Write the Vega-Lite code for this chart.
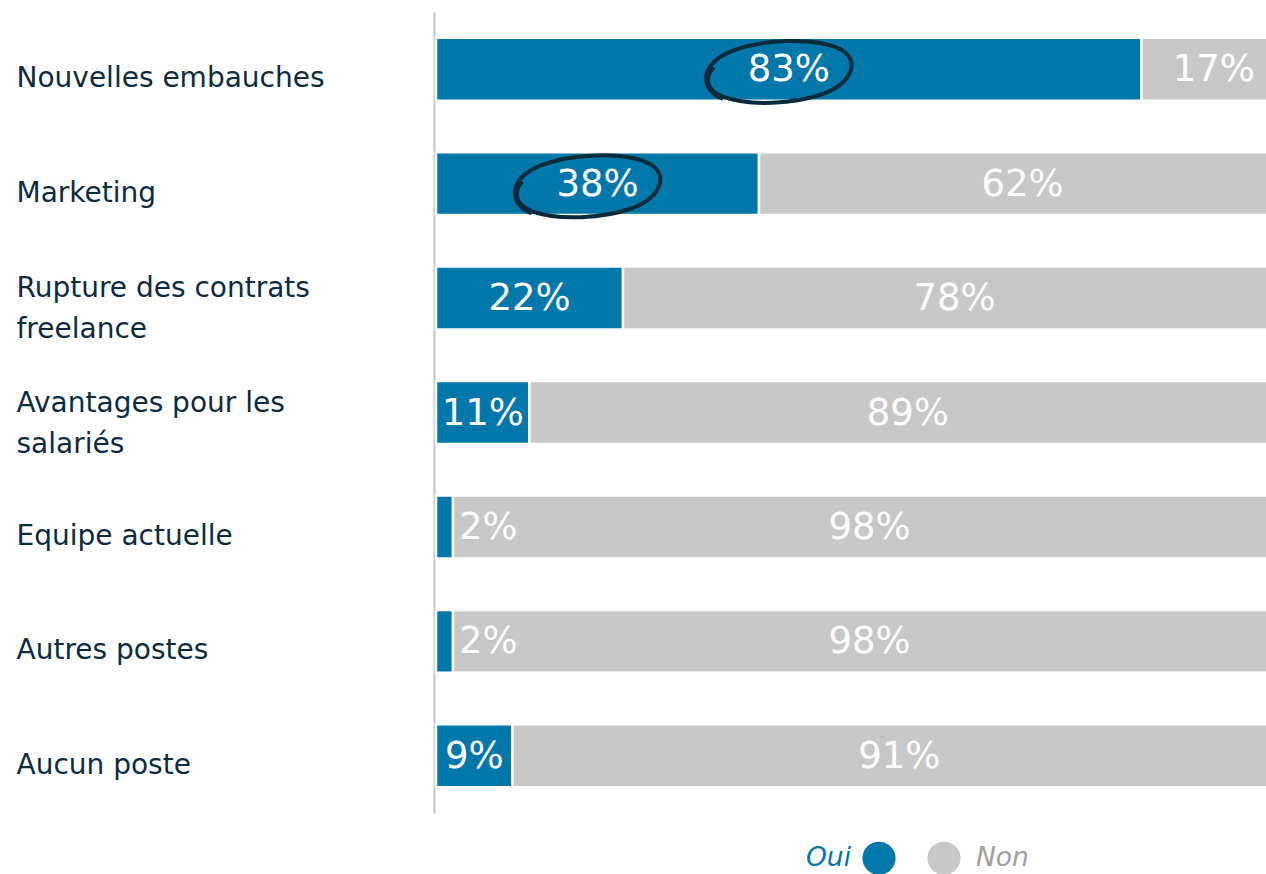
{
  "$schema": "https://vega.github.io/schema/vega-lite/v6.json",
  "width": 850,
  "height": 801,
  "autosize": {"type": "none"},
  "padding": {"left": 436, "top": 12, "right": 0, "bottom": 61},
  "background": "white",
  "config": {"view": {"stroke": null}, "font": "DejaVu Sans"},
  "data": {
    "values": [
      {"cat": "Nouvelles embauches", "rep": "Oui", "v": 83, "hl": true},
      {"cat": "Nouvelles embauches", "rep": "Non", "v": 17, "hl": false},
      {"cat": "Marketing", "rep": "Oui", "v": 38, "hl": true},
      {"cat": "Marketing", "rep": "Non", "v": 62, "hl": false},
      {"cat": "Rupture des contrats|freelance", "rep": "Oui", "v": 22, "hl": false},
      {"cat": "Rupture des contrats|freelance", "rep": "Non", "v": 78, "hl": false},
      {"cat": "Avantages pour les|salariés", "rep": "Oui", "v": 11, "hl": false},
      {"cat": "Avantages pour les|salariés", "rep": "Non", "v": 89, "hl": false},
      {"cat": "Equipe actuelle", "rep": "Oui", "v": 2, "hl": false},
      {"cat": "Equipe actuelle", "rep": "Non", "v": 98, "hl": false},
      {"cat": "Autres postes", "rep": "Oui", "v": 2, "hl": false},
      {"cat": "Autres postes", "rep": "Non", "v": 98, "hl": false},
      {"cat": "Aucun poste", "rep": "Oui", "v": 9, "hl": false},
      {"cat": "Aucun poste", "rep": "Non", "v": 91, "hl": false}
    ]
  },
  "transform": [
    {"stack": "v", "groupby": ["cat"], "sort": [{"field": "rep", "order": "descending"}], "as": ["x0", "x1"]},
    {"calculate": "(datum.x0 + datum.x1) / 2", "as": "mid"},
    {"calculate": "datum.v + '%'", "as": "lab"}
  ],
  "encoding": {
    "y": {
      "field": "cat",
      "type": "nominal",
      "sort": ["Nouvelles embauches", "Marketing", "Rupture des contrats|freelance", "Avantages pour les|salariés", "Equipe actuelle", "Autres postes", "Aucun poste"],
      "scale": {"paddingInner": 0.45, "paddingOuter": 0.225},
      "axis": {
        "title": null,
        "offset": 2,
        "domainColor": "#c4c4c4",
        "domainWidth": 2,
        "ticks": false,
        "tickSize": 0,
        "labelAlign": "left",
        "labelBaseline": "middle",
        "labelPadding": 418,
        "labelLimit": 420,
        "labelFontSize": 28,
        "labelFontWeight": "normal",
        "labelColor": "#0d2b3e",
        "labelOffset": {"condition": {"test": "indexof(datum.label, '|') >= 0", "value": -9}, "value": 10},
        "labelLineHeight": 41,
        "labelExpr": "split(datum.label, '|')"
      }
    }
  },
  "layer": [
    {
      "mark": {"type": "bar", "stroke": "white", "strokeWidth": 2.5},
      "encoding": {
        "x": {"field": "x0", "type": "quantitative", "scale": {"domain": [0, 100], "nice": false}, "axis": null},
        "x2": {"field": "x1"},
        "color": {
          "field": "rep",
          "type": "nominal",
          "scale": {"domain": ["Oui", "Non"], "range": ["#0277a9", "#c8c8c8"]},
          "legend": {
            "orient": "none",
            "direction": "horizontal",
            "legendX": 370,
            "legendY": 829,
            "title": "Oui",
            "titleOrient": "left",
            "titleFont": "DejaVu Sans",
            "titleFontSize": 26.5,
            "titleFontStyle": "italic",
            "titleFontWeight": "normal",
            "titleColor": "#0277a9",
            "titlePadding": 10,
            "titleBaseline": "middle",
            "symbolType": "circle",
            "symbolSize": 1100,
            "symbolOpacity": 1,
            "symbolStrokeWidth": 0,
            "labelExpr": "datum.label == 'Oui' ? '' : datum.label",
            "labelFontSize": 26.5,
            "labelFontStyle": "italic",
            "labelFontWeight": "normal",
            "labelColor": "#a0a0a0",
            "labelOffset": 15,
            "columnPadding": 16
          }
        }
      }
    },
    {
      "transform": [{"filter": "datum.v >= 5"}],
      "mark": {"type": "text", "color": "white", "fontSize": 37, "fontWeight": "normal", "align": "center", "baseline": "middle", "dy": 1},
      "encoding": {
        "x": {"field": "mid", "type": "quantitative"},
        "text": {"field": "lab"}
      }
    },
    {
      "transform": [{"filter": "datum.v < 5"}],
      "mark": {"type": "text", "color": "white", "fontSize": 37, "fontWeight": "normal", "align": "left", "baseline": "middle", "dx": 6, "dy": 1},
      "encoding": {
        "x": {"field": "x1", "type": "quantitative"},
        "text": {"field": "lab"}
      }
    },
    {
      "transform": [{"filter": "datum.hl"}],
      "mark": {
        "type": "point",
        "shape": "M -0.75 0.33 C -1.05 0.2 -1.05 -0.15 -0.6 -0.3 C -0.2 -0.43 0.5 -0.44 0.85 -0.25 C 1.1 -0.1 1.0 0.2 0.6 0.33 C 0.2 0.45 -0.4 0.45 -0.75 0.3 C -0.95 0.2 -1.0 0.05 -0.85 -0.1",
        "size": 22500,
        "filled": false,
        "stroke": "#0b2a3c",
        "strokeWidth": 4,
        "opacity": 1,
        "angle": -3,
        "xOffset": -11,
        "yOffset": 2
      },
      "encoding": {
        "x": {"field": "mid", "type": "quantitative"}
      }
    }
  ]
}
